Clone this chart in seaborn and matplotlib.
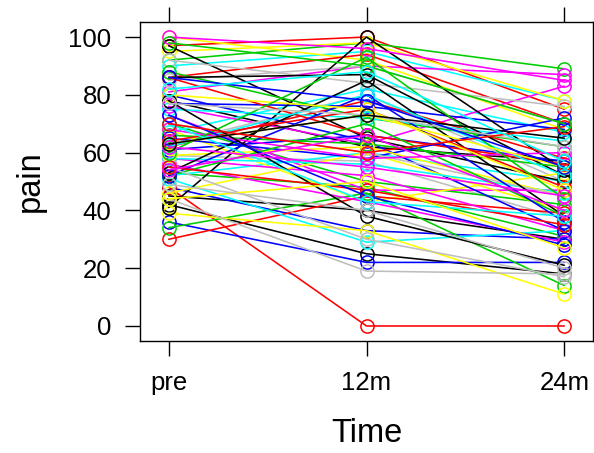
import numpy as np
import pandas as pd
import matplotlib
matplotlib.use("Agg")
import matplotlib.pyplot as plt
import seaborn as sns

# Time points and their axis labels
times = [0, 1, 2]
time_labels = ["pre", "12m", "24m"]

# Pain score per subject at each time point (subject order = colour cycle order)
pain_pre = [
    78, 97, 92, 61, 90, 81, 100, 59,
    45, 86, 70, 48, 67, 76, 95, 63,
    42, 48, 53, 36, 52, 73, 68, 85,
    97, 30, 34, 77, 51, 58, 39, 92,
    41, 62, 88, 80, 75, 56, 46, 44,
    86, 86, 66, 65, 58, 100, 59, 70,
    53, 64, 52, 52, 62, 68, 80, 55,
    78, 55, 60, 73, 70, 62, 63, 77,
    63, 70, 98, 86, 82, 54, 44, 49,
]
pain_12m = [
    62, 100, 98, 66, 95, 90, 92, 57,
    40, 94, 50, 33, 82, 63, 98, 80,
    25, 0, 48, 22, 60, 47, 43, 90,
    65, 45, 46, 76, 29, 52, 33, 84,
    100, 78, 72, 64, 72, 43, 60, 19,
    87, 66, 63, 58, 56, 96, 62, 60,
    85, 75, 70, 80, 80, 58, 75, 30,
    38, 47, 93, 45, 43, 55, 73, 73,
    73, 60, 90, 78, 88, 66, 50, 40,
]
pain_24m = [
    57, 75, 89, 57, 78, 87, 68, 37,
    30, 70, 42, 30, 67, 83, 78, 50,
    18, 0, 31, 22, 50, 47, 53, 70,
    50, 39, 14, 68, 33, 33, 11, 76,
    54, 58, 62, 33, 64, 29, 40, 18,
    52, 56, 55, 72, 46, 85, 45, 45,
    38, 48, 38, 36, 52, 60, 47, 17,
    21, 35, 44, 28, 38, 45, 55, 62,
    65, 69, 70, 55, 57, 40, 27, 20,
]

# Classic eight-colour cycle
base_colors = ["#000000", "#FF0000", "#00CD00", "#0000FF",
               "#00FFFF", "#FF00FF", "#FFFF00", "#BEBEBE"]

n = len(pain_pre)
subjects = np.arange(n)
df = pd.DataFrame({
    "subject": np.repeat(subjects, 3),
    "time": np.tile(times, n),
    "pain": np.column_stack([pain_pre, pain_12m, pain_24m]).ravel(),
})
palette = [base_colors[i % len(base_colors)] for i in subjects]

sns.set_style("white")
plt.rcParams["font.family"] = ["Liberation Sans", "DejaVu Sans"]

fig = plt.figure(figsize=(5.94, 4.53), dpi=100)
ax = fig.add_axes([140 / 594, 1 - 341 / 453, (593 - 140) / 594, (341 - 22) / 453])

sns.lineplot(data=df, x="time", y="pain", hue="subject", palette=palette,
             marker="o", markersize=9.5, markerfacecolor="none",
             linewidth=1.15, errorbar=None, legend=False, ax=ax)
for line in ax.lines:
    line.set_markeredgecolor(line.get_color())
    line.set_markeredgewidth(1.1)

ax.set_xlim(-0.145, 2.145)
ax.set_ylim(-5.2, 105.2)
ax.set_xticks(times)
ax.set_xticklabels(time_labels)
ax.set_yticks([0, 20, 40, 60, 80, 100])

for side in ["left", "right", "top", "bottom"]:
    ax.spines[side].set_visible(True)
    ax.spines[side].set_color("black")
    ax.spines[side].set_linewidth(1.0)

ax.tick_params(axis="both", direction="out", length=10.5, width=1.0,
               color="black", labelsize=18.5, labelcolor="black")
ax.tick_params(axis="x", top=True, bottom=True, pad=11)
ax.tick_params(axis="y", left=True, pad=10)

ax.set_xlabel("Time", fontsize=23.5, labelpad=17, color="black")
ax.set_ylabel("pain", fontsize=23.5, labelpad=16, color="black")

fig.savefig("out.png", dpi=100)
